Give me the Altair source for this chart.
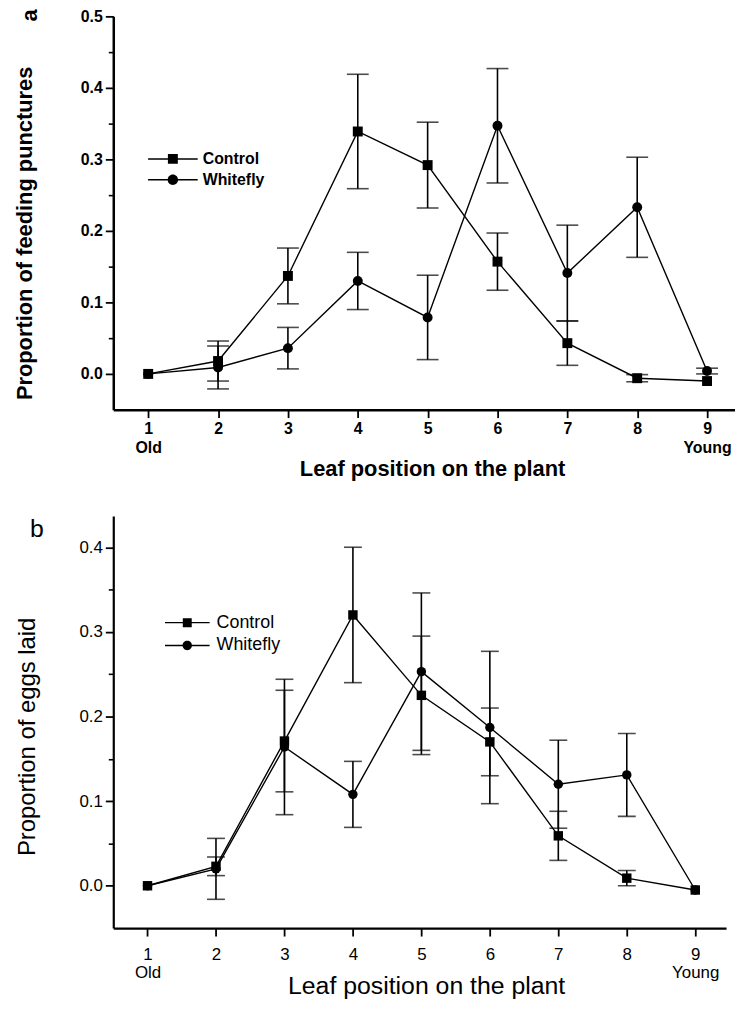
import altair as alt
import pandas as pd

# ---------------- data ----------------
positions = [1, 2, 3, 4, 5, 6, 7, 8, 9]
series_names = ["Control", "Whitefly"]

# Panel a: proportion of feeding punctures
a_control = [0.000, 0.018, 0.137, 0.339, 0.292, 0.157, 0.043, -0.006, -0.010]
a_control_err = [0.000, 0.028, 0.039, 0.080, 0.060, 0.040, 0.031, 0.005, 0.000]
a_whitefly = [0.000, 0.009, 0.036, 0.130, 0.079, 0.347, 0.141, 0.233, 0.004]
a_whitefly_err = [0.000, 0.030, 0.029, 0.040, 0.059, 0.080, 0.067, 0.070, 0.004]

# Panel b: proportion of eggs laid
b_control = [0.000, 0.023, 0.171, 0.320, 0.225, 0.170, 0.059, 0.009, -0.005]
b_control_err = [0.000, 0.011, 0.060, 0.080, 0.070, 0.040, 0.029, 0.009, 0.000]
b_whitefly = [0.000, 0.020, 0.164, 0.108, 0.253, 0.187, 0.120, 0.131, -0.005]
b_whitefly_err = [0.000, 0.036, 0.080, 0.039, 0.093, 0.090, 0.052, 0.049, 0.000]

a_yticks = [0.0, 0.1, 0.2, 0.3, 0.4, 0.5]
a_minor = [0.05, 0.15, 0.25, 0.35, 0.45]
b_yticks = [0.0, 0.1, 0.2, 0.3, 0.4]
b_minor = [0.05, 0.15, 0.25, 0.35]

FONT = "Liberation Sans"


def make_df(ctrl, ctrl_err, wf, wf_err):
    rows = []
    for p, v, e in zip(positions, ctrl, ctrl_err):
        rows.append({"pos": p, "value": v, "err": e, "series": "Control"})
    for p, v, e in zip(positions, wf, wf_err):
        rows.append({"pos": p, "value": v, "err": e, "series": "Whitefly"})
    return pd.DataFrame(rows)


def legend_paths(half_sq, half_line):
    sq = (f"M-1,-{half_line}H1V{half_line}H-1Z "
          f"M-{half_sq},-{half_sq}H{half_sq}V{half_sq}H-{half_sq}Z")
    r = half_sq * 1.05
    ci = (f"M-1,-{half_line}H1V{half_line}H-1Z "
          f"M{r},0A{r},{r} 0 1,1 -{r},0A{r},{r} 0 1,1 {r},0Z")
    return [sq, ci]


def panel(df, letter, *, width, height, xdom, ydom, yticks, yminor, ytitle,
          weight, tick_fs, ytitle_fs, xtitle_fs, ytitle_x, ytitle_y, xtitle_x,
          xtitle_y, line_h, xlab_pad, cap, pt_size, leg_x, leg_y, leg_size,
          leg_fs, leg_clip, leg_offset, leg_sq, letter_x, letter_y, letter_fs,
          letter_angle, domain_w):
    label_expr = ("datum.value == 1 ? ['1', 'Old'] : "
                  "datum.value == 9 ? ['9', 'Young'] : datum.label")
    x_axis = alt.Axis(values=positions, labelExpr=label_expr, grid=False,
                      title="Leaf position on the plant", titleFont=FONT,
                      titleFontSize=xtitle_fs, titleFontWeight=weight,
                      titleColor="black", titleX=xtitle_x, titleY=xtitle_y,
                      titleBaseline="middle", labelFont=FONT,
                      labelFontSize=tick_fs, labelFontWeight=weight,
                      labelColor="black", labelLineHeight=line_h,
                      labelOverlap=False, labelPadding=xlab_pad, tickSize=8,
                      tickWidth=1.8, tickColor="black", domainColor="black",
                      domainWidth=domain_w, labelFlush=False)
    x = alt.X("pos:Q", scale=alt.Scale(domain=xdom, nice=False, zero=False),
              axis=x_axis)
    yscale = alt.Scale(domain=ydom, nice=False, zero=False)
    y_axis = alt.Axis(values=yticks, format=".1f", grid=False, title=ytitle,
                      titleFont=FONT, titleFontSize=ytitle_fs,
                      titleFontWeight=weight, titleColor="black",
                      titleX=ytitle_x, titleY=ytitle_y,
                      titleBaseline="middle", labelFont=FONT,
                      labelFontSize=tick_fs, labelFontWeight=weight,
                      labelColor="black", labelPadding=3, tickSize=8,
                      tickWidth=1.8, tickColor="black", domainColor="black",
                      domainWidth=domain_w, orient="left", labelFlush=False)
    minor_axis = alt.Axis(values=yminor, labels=False, domain=False,
                          grid=False, title=None, tickSize=5, tickWidth=1.6,
                          tickColor="black", orient="left")

    base = alt.Chart(df)
    bars = base.transform_filter("datum.err > 0").transform_calculate(
        lo="datum.value - datum.err", hi="datum.value + datum.err")

    lines = base.mark_line(color="black", strokeWidth=1.4).encode(
        x=x, y=alt.Y("value:Q", scale=yscale, axis=y_axis),
        detail="series:N")
    rules = bars.mark_rule(color="black", strokeWidth=1.6).encode(
        x=x, y=alt.Y("lo:Q", scale=yscale, axis=None), y2="hi:Q")
    cap_lo = bars.mark_tick(orient="horizontal", size=cap, thickness=1.6,
                            color="black").encode(
        x=x, y=alt.Y("lo:Q", scale=yscale, axis=None))
    cap_hi = bars.mark_tick(orient="horizontal", size=cap, thickness=1.6,
                            color="black").encode(
        x=x, y=alt.Y("hi:Q", scale=yscale, axis=None))
    points = base.mark_point(filled=True, size=pt_size, opacity=1,
                             color="black", strokeWidth=0).encode(
        x=x, y=alt.Y("value:Q", scale=yscale, axis=minor_axis),
        shape=alt.Shape("series:N", legend=None,
                        scale=alt.Scale(domain=series_names,
                                        range=["square", "circle"])))
    legend_layer = base.transform_filter("datum.value > 100").mark_point(
        filled=True, color="black", opacity=1, strokeWidth=0).encode(
        x=x, y=alt.Y("value:Q", scale=yscale, axis=None),
        shape=alt.Shape("series:N",
                        scale=alt.Scale(domain=series_names,
                                        range=legend_paths(leg_sq, 0.03)),
                        legend=alt.Legend(title=None, orient="none",
                                          legendX=leg_x, legendY=leg_y,
                                          symbolSize=leg_size,
                                          symbolFillColor="black",
                                          symbolStrokeWidth=0,
                                          symbolOpacity=1,
                                          labelFont=FONT,
                                          labelFontSize=leg_fs,
                                          labelFontWeight=weight,
                                          labelColor="black",
                                          labelOffset=leg_offset,
                                          clipHeight=leg_clip,
                                          rowPadding=0,
                                          padding=0)))
    letter_layer = alt.Chart(pd.DataFrame({"letter": [letter]})).mark_text(
        font=FONT, fontSize=letter_fs, fontWeight=weight, color="black",
        angle=letter_angle, align="center", baseline="middle").encode(
        text="letter:N", x=alt.value(letter_x), y=alt.value(letter_y))

    return alt.layer(lines, rules, cap_lo, cap_hi, points, legend_layer,
                     letter_layer).resolve_scale(
        shape="independent").resolve_axis(y="independent").properties(
        width=width, height=height)


df_a = make_df(a_control, a_control_err, a_whitefly, a_whitefly_err)
df_b = make_df(b_control, b_control_err, b_whitefly, b_whitefly_err)

panel_a = panel(df_a, "a", width=626, height=396, xdom=[0.5, 9.4],
                ydom=[-0.05, 0.5], yticks=a_yticks, yminor=a_minor,
                ytitle="Proportion of feeding punctures", weight="bold",
                tick_fs=16, ytitle_fs=22, xtitle_fs=22, ytitle_x=-89,
                ytitle_y=218, xtitle_x=321, xtitle_y=59, line_h=19,
                xlab_pad=3, cap=22, pt_size=100, leg_x=35, leg_y=133,
                leg_size=2500, leg_fs=16, leg_clip=21, leg_offset=5,
                leg_sq=0.2, letter_x=-84, letter_y=-1, letter_fs=22,
                letter_angle=270, domain_w=2.5)

panel_b = panel(df_b, "b", width=617, height=415, xdom=[0.5, 9.45],
                ydom=[-0.05, 0.437], yticks=b_yticks, yminor=b_minor,
                ytitle="Proportion of eggs laid", weight="normal",
                tick_fs=17, ytitle_fs=24, xtitle_fs=25, ytitle_x=-86,
                ytitle_y=222, xtitle_x=315, xtitle_y=58, line_h=18,
                xlab_pad=11, cap=18, pt_size=90, leg_x=52, leg_y=96,
                leg_size=2025, leg_fs=18, leg_clip=23, leg_offset=7,
                leg_sq=0.2, letter_x=-77, letter_y=13, letter_fs=25,
                letter_angle=0, domain_w=2.2)

chart = alt.concat(panel_a, panel_b, columns=1, align="none",
                   spacing=37).properties(
    padding={"left": 5, "top": -3, "right": 0, "bottom": 0},
    background="white").configure_view(strokeWidth=0)

chart.save("out.html", embed_options={"renderer": "svg", "actions": False})
